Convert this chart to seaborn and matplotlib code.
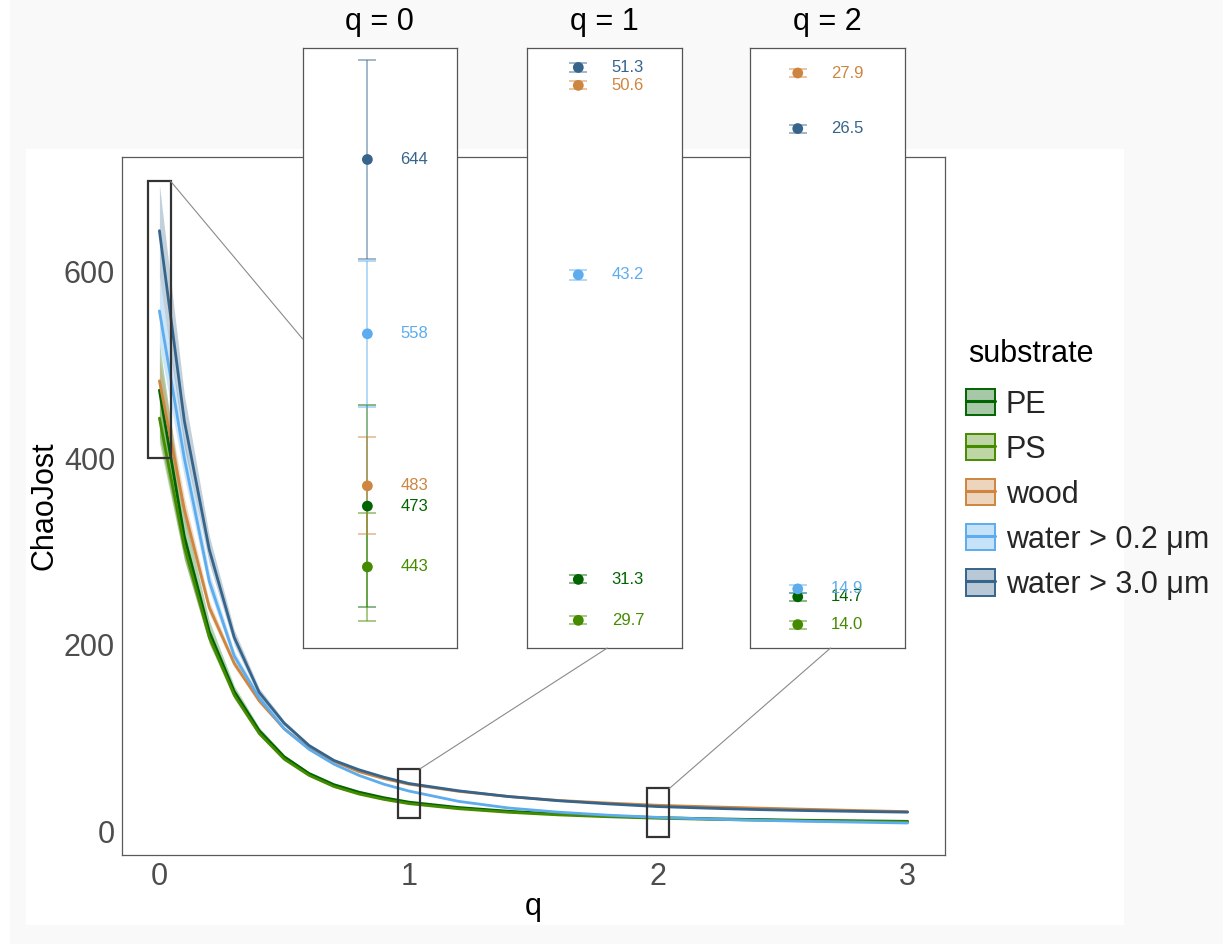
import numpy as np
import pandas as pd
import matplotlib
matplotlib.use("Agg")
import matplotlib.pyplot as plt
import seaborn as sns
from matplotlib.patches import Rectangle, Patch, ConnectionPatch
from matplotlib.lines import Line2D
from matplotlib.legend_handler import HandlerTuple
from matplotlib.colors import to_rgba

# ---------------------------------------------------------------- data
q_values = [0.0, 0.1, 0.2, 0.3, 0.4, 0.5, 0.6, 0.7, 0.8, 0.9, 1.0,
            1.2, 1.4, 1.6, 1.8, 2.0, 2.2, 2.4, 2.6, 2.8, 3.0]

substrates = ["PE", "PS", "wood", "water > 0.2 \u03bcm", "water > 3.0 \u03bcm"]

chao_PE = [473, 316, 214, 150, 108, 80, 62, 50, 42, 36, 31.3,
           25.5, 21.5, 18.5, 16.4, 14.7, 13.5, 12.6, 11.8, 11.2, 10.7]
chao_PS = [443, 305, 208, 146, 105, 77.5, 60, 48, 40, 34.2, 29.7,
           24.2, 20.4, 17.6, 15.6, 14.0, 12.9, 12.0, 11.3, 10.7, 10.2]
chao_wood = [483, 345, 240, 180, 140, 110, 89, 75, 64, 56.5, 50.6,
             42.9, 37.3, 33.1, 30.3, 27.9, 26.3, 24.9, 23.6, 22.3, 21.1]
chao_w02 = [558, 400, 268, 188, 143, 110, 88, 72, 60, 50.5, 43.2,
            32.1, 25.0, 20.5, 17.3, 14.9, 13.2, 11.8, 10.7, 9.8, 8.9]
chao_w30 = [644, 440, 302, 208, 149, 116, 92, 76, 66, 58, 51.3,
            43.4, 37.3, 32.8, 29.4, 26.5, 24.8, 23.3, 22.2, 21.3, 20.5]

# half width of the 95% confidence band
ci_PE = [50, 24, 12, 6, 3.5, 2.2, 1.5, 1.0, 0.7, 0.5, 0.16,
         0.15, 0.14, 0.13, 0.12, 0.1, 0.1, 0.1, 0.1, 0.1, 0.1]
ci_PS = [26.5, 14, 7, 4, 2.5, 1.6, 1.1, 0.8, 0.6, 0.4, 0.16,
         0.15, 0.14, 0.13, 0.12, 0.1, 0.1, 0.1, 0.1, 0.1, 0.1]
ci_wood = [24, 13, 7, 4, 2.5, 1.6, 1.1, 0.8, 0.6, 0.4, 0.16,
           0.15, 0.14, 0.13, 0.12, 0.1, 0.1, 0.1, 0.1, 0.1, 0.1]
ci_w02 = [36, 20, 10, 5.5, 3.2, 2.0, 1.4, 0.9, 0.6, 0.4, 0.2,
          0.18, 0.16, 0.14, 0.12, 0.1, 0.1, 0.1, 0.1, 0.1, 0.1]
ci_w30 = [49, 28, 15, 8, 4.5, 2.8, 1.8, 1.2, 0.8, 0.5, 0.17,
          0.15, 0.14, 0.13, 0.12, 0.1, 0.1, 0.1, 0.1, 0.1, 0.1]

colors = ["#006400", "#458B00", "#CD853F", "#5CACEE", "#36648B"]

x_ticks = [0, 1, 2, 3]
y_ticks = [0, 200, 400, 600]

# zoom windows shown as insets: q, y range marked in the main axes, inset y range
zoom_q = [0, 1, 2]
zoom_main_y = [(400, 697), (14, 67), (-6, 46)]
zoom_inset_y = [(403, 699), (28.62, 52.06), (13.41, 28.53)]
zoom_left_frac = [0.42, 0.333, 0.308]

# ---------------------------------------------------------------- tables
series = [chao_PE, chao_PS, chao_wood, chao_w02, chao_w30]
halfw = [ci_PE, ci_PS, ci_wood, ci_w02, ci_w30]
rows = []
for name, vals, hw in zip(substrates, series, halfw):
    for q, v, h in zip(q_values, vals, hw):
        rows.append({"q": q, "ChaoJost": v, "lo": v - h, "hi": v + h,
                     "substrate": name})
df = pd.DataFrame(rows)
palette = dict(zip(substrates, colors))

# ---------------------------------------------------------------- style
sns.set_style("white")
plt.rcParams["font.family"] = ["Liberation Sans", "DejaVu Sans"]

W, H = 1223, 944
fig = plt.figure(figsize=(W / 100, H / 100), dpi=100, facecolor="#f9f9f9")


def box(l, t, r, b):
    return [l / W, 1 - b / H, (r - l) / W, (b - t) / H]


# page background panels
fig.patches.append(Rectangle((0, 0), 10 / W, 1, transform=fig.transFigure,
                             facecolor="white", edgecolor="none", zorder=-20))
fig.patches.append(Rectangle((26 / W, 1 - 925 / H), (1124 - 26) / W, (925 - 149) / H,
                             transform=fig.transFigure, facecolor="white",
                             edgecolor="none", zorder=-10))

# ---------------------------------------------------------------- main axes
ax = fig.add_axes(box(122, 157, 945, 855))
ax.set_facecolor("white")

for name in substrates:
    sub = df[df["substrate"] == name]
    ax.fill_between(sub["q"], sub["lo"], sub["hi"], color=palette[name],
                    alpha=0.3, linewidth=0)

sns.lineplot(data=df, x="q", y="ChaoJost", hue="substrate", hue_order=substrates,
             palette=palette, linewidth=2.0, errorbar=None, legend=False, ax=ax)

ax.set_xlim(-0.15, 3.15)
ax.set_ylim(-25.4, 723)
ax.set_xticks(x_ticks)
ax.set_yticks(y_ticks)
ax.tick_params(axis="both", labelsize=22, labelcolor="#4d4d4d", color="#4d4d4d",
               length=3.5, width=0.9, pad=1.5, direction="out")
ax.set_xlabel("q", fontsize=22, color="black", labelpad=0)
ax.set_ylabel("ChaoJost", fontsize=22, color="black", labelpad=3)
for s in ax.spines.values():
    s.set_color("#5a5a5a")
    s.set_linewidth(0.9)

# zoom rectangles
for q, (y0, y1) in zip(zoom_q, zoom_main_y):
    ax.add_patch(Rectangle((q - 0.045, y0), 0.09, y1 - y0, fill=False,
                           edgecolor="#333333", linewidth=1.6, zorder=5))

# ---------------------------------------------------------------- insets
inset_boxes = [box(302.7, 48, 456.7, 648), box(526.7, 48, 681.7, 648),
               box(750, 48, 905, 648)]
grid_index = [q_values.index(float(q)) for q in zoom_q]

insets = []
for q, pos, (iy0, iy1), lf, gi in zip(zoom_q, inset_boxes, zoom_inset_y,
                                      zoom_left_frac, grid_index):
    ia = fig.add_axes(pos)
    ia.set_facecolor("white")
    sub = df[np.isclose(df["q"], q)]
    for name, vals, hw in zip(substrates, series, halfw):
        v, h = vals[gi], hw[gi]
        ia.errorbar([q], [v], yerr=[h], fmt="none", ecolor=palette[name],
                    alpha=0.5, elinewidth=1.3, capsize=6.2, capthick=1.3)
    sns.scatterplot(data=sub, x="q", y="ChaoJost", hue="substrate",
                    hue_order=substrates, palette=palette, s=60, linewidth=0,
                    legend=False, ax=ia, zorder=5)
    for name, vals in zip(substrates, series):
        v = vals[gi]
        txt = f"{v:.0f}" if q == 0 else f"{v:.1f}"
        ia.text(q + 0.215, v, txt, color=palette[name], fontsize=12,
                va="center", ha="left")
    ia.set_xlim(q - lf, q + 1 - lf)
    ia.set_ylim(iy0, iy1)
    ia.set_xticks([])
    ia.set_yticks([])
    ia.set_xlabel("")
    ia.set_ylabel("")
    ia.set_title(f"q = {q}", fontsize=22, color="black", pad=13)
    for s in ia.spines.values():
        s.set_visible(True)
        s.set_color("#555555")
        s.set_linewidth(0.9)
    insets.append(ia)

# connectors from zoom rectangles to insets
for k, (q, (y0, y1), ia) in enumerate(zip(zoom_q, zoom_main_y, insets)):
    xyB = (0.0, 0.515) if k == 0 else (0.52, 0.0)
    con = ConnectionPatch(xyA=(q + 0.045, y1), coordsA=ax.transData,
                          xyB=xyB, coordsB=ia.transAxes,
                          color="#8a8a8a", linewidth=0.8)
    fig.add_artist(con)

# ---------------------------------------------------------------- legend
fig.text(968 / W, 1 - 362 / H, "substrate", fontsize=22, color="black",
         ha="left", va="baseline")
handles = [(Patch(facecolor=to_rgba(c, 0.35), edgecolor=c, linewidth=1.4),
            Line2D([], [], color=c, linewidth=2.2)) for c in colors]
leg = fig.legend(handles, substrates, handler_map={tuple: HandlerTuple(ndivide=1, pad=0)},
                 loc="upper left", bbox_to_anchor=(966 / W, 1 - 389 / H),
                 frameon=False, fontsize=22,
                 handlelength=0.95, handleheight=0.95, handletextpad=0.35,
                 labelspacing=0.47, borderpad=0, borderaxespad=0)

fig.savefig("out.png", dpi=100, facecolor=fig.get_facecolor())
